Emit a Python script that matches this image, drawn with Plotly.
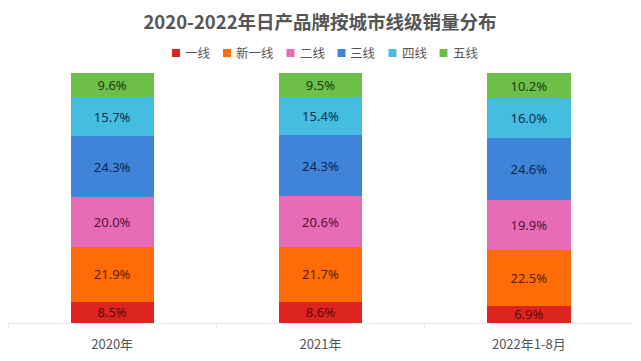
import plotly.graph_objects as go

categories = ["2020年", "2021年", "2022年1-8月"]
series_names = ["一线", "新一线", "二线", "三线", "四线", "五线"]
tier1 = [8.5, 8.6, 6.9]
new_tier1 = [21.9, 21.7, 22.5]
tier2 = [20.0, 20.6, 19.9]
tier3 = [24.3, 24.3, 24.6]
tier4 = [15.7, 15.4, 16.0]
tier5 = [9.6, 9.5, 10.2]
series_values = [tier1, new_tier1, tier2, tier3, tier4, tier5]

bar_colors = ["#dd2420", "#ff6b07", "#e86bb6", "#3f84d9", "#45bde1", "#6cc04a"]
text_colors = ["#5a0c0c", "#5a2200", "#4e1434", "#0e2452", "#0e2e4c", "#1e3a10"]

# page body has an 8px margin; figure is sized to fit the window
OFF = 8
W, H = 641 - OFF, 361 - OFF
ML, MR, MT, MB = 0, 8, 65, 38
PW, PH = W - ML - MR, H - MT - MB

fig = go.Figure()
for name, vals, c, tc in zip(series_names, series_values, bar_colors, text_colors):
    fig.add_trace(go.Bar(
        name=name, x=categories, y=vals,
        marker=dict(color=c, line=dict(width=0)),
        texttemplate="%{y:.1f}%", textposition="inside", insidetextanchor="middle",
        constraintext="none",
        textfont=dict(size=13, color=tc, family="Noto Sans"),
        hoverinfo="skip", showlegend=False,
    ))

def px2x(px):
    return (px - OFF - ML) / PW

def py2y(py):
    return (H - MB - (py - OFF)) / PH

legend_font = 12.5
sq = 8
x_cur = 172
y_mid = 53
shapes = []
annotations = []
for name, c in zip(series_names, bar_colors):
    shapes.append(dict(type="rect", xref="paper", yref="paper",
                       x0=px2x(x_cur), x1=px2x(x_cur + sq),
                       y0=py2y(y_mid + sq / 2), y1=py2y(y_mid - sq / 2),
                       fillcolor=c, line=dict(width=0)))
    tw = legend_font * len(name)
    annotations.append(dict(text=name, xref="paper", yref="paper",
                            x=px2x(x_cur + sq + 3), y=py2y(y_mid),
                            xanchor="left", yanchor="middle", showarrow=False,
                            font=dict(size=legend_font, color="#555555")))
    x_cur += sq + 4 + tw + 14

fig.update_layout(
    barmode="stack",
    bargap=0.6,
    width=W, height=H,
    margin=dict(l=ML, r=MR, t=MT, b=MB),
    paper_bgcolor="white", plot_bgcolor="white",
    font=dict(family="Noto Sans CJK SC, Noto Sans", color="#555555"),
    title=dict(text="<b>2020-2022年日产品牌按城市线级销量分布</b>", x=(320 - OFF) / W, xanchor="center",
               y=1 - (23 - OFF) / H, yanchor="middle", font=dict(size=18.5, color="#555555")),
    shapes=shapes, annotations=annotations,
    showlegend=False,
)
fig.update_xaxes(showline=True, linecolor="#e8e8e8", linewidth=1, ticks="outside",
                 tickson="boundaries", ticklen=4, tickcolor="#e8e8e8",
                 ticklabelstandoff=9,
                 tickfont=dict(size=13, color="#555555"), showgrid=False)
fig.update_yaxes(visible=False, range=[0, 100.1], showgrid=False)

fig.write_html("out.html")
